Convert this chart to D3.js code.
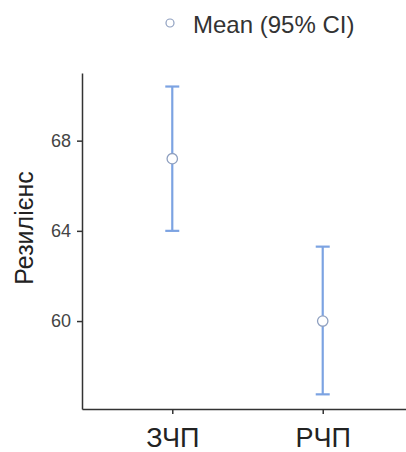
<!DOCTYPE html>
<html>
<head>
<meta charset="utf-8">
<script src="https://cdn.jsdelivr.net/npm/d3@7"></script>
<style>
  html, body { margin: 0; padding: 0; background: #fff; }
  svg { display: block; font-family: "Liberation Sans", Arial, sans-serif; }
</style>
</head>
<body>
<svg id="chart" width="406" height="452"></svg>
<script>
// Group means with 95% confidence intervals
const groups = ["ЗЧП", "РЧП"];
const means = [67.2, 60.0];
const ciLower = [64.0, 56.75];
const ciUpper = [70.4, 63.3];
const yTicks = [60, 64, 68];
const legendLabel = "Mean (95% CI)";
const yTitle = "Резилієнс";

const svg = d3.select("#chart");
const plotLeft = 82, plotTop = 73, plotBottom = 409, plotRight = 413;

const y = d3.scaleLinear().domain([56.1, 71.0]).range([plotBottom, plotTop]);
const x = d3.scalePoint().domain(groups).range([plotLeft, plotRight]).padding(0.6);

const barColor = "#7ca3e2";
const markerStroke = "#8fa0c0";

// Axes
const yAxis = svg.append("g")
  .attr("transform", `translate(${plotLeft},0)`)
  .call(d3.axisLeft(y).tickValues(yTicks).tickSize(5).tickPadding(6).tickSizeOuter(0));
yAxis.select(".domain").attr("stroke", "#333").attr("stroke-width", 1.5);
yAxis.selectAll(".tick line").attr("stroke", "#333").attr("stroke-width", 1.5);
yAxis.selectAll(".tick text").attr("fill", "#444").style("font-size", "18px");

const xAxis = svg.append("g")
  .attr("transform", `translate(0,${plotBottom})`)
  .call(d3.axisBottom(x).tickSize(5).tickPadding(14).tickSizeOuter(0));
xAxis.select(".domain").attr("stroke", "#333").attr("stroke-width", 1.5);
xAxis.selectAll(".tick line").attr("stroke", "#333").attr("stroke-width", 1.5);
xAxis.selectAll(".tick text").attr("fill", "#222").style("font-size", "27px");

// Error bars
const bars = svg.append("g").selectAll("g")
  .data(groups.map((g, i) => ({ g, m: means[i], lo: ciLower[i], hi: ciUpper[i] })))
  .join("g");
bars.append("line")
  .attr("x1", d => x(d.g)).attr("x2", d => x(d.g))
  .attr("y1", d => y(d.lo)).attr("y2", d => y(d.hi))
  .attr("stroke", barColor).attr("stroke-width", 2.2);
bars.selectAll(".cap")
  .data(d => [d.lo, d.hi].map(v => ({ g: d.g, v })))
  .join("line")
  .attr("class", "cap")
  .attr("x1", d => x(d.g) - 7).attr("x2", d => x(d.g) + 7)
  .attr("y1", d => y(d.v)).attr("y2", d => y(d.v))
  .attr("stroke", barColor).attr("stroke-width", 2.2);
bars.append("circle")
  .attr("cx", d => x(d.g)).attr("cy", d => y(d.m))
  .attr("r", 5.2)
  .attr("fill", "#fff").attr("stroke", markerStroke).attr("stroke-width", 1.3);

// Y title
svg.append("text")
  .attr("transform", `translate(33,228) rotate(-90)`)
  .attr("text-anchor", "middle")
  .attr("fill", "#222")
  .style("font-size", "25px")
  .text(yTitle);

// Legend
svg.append("circle")
  .attr("cx", 170).attr("cy", 23).attr("r", 4)
  .attr("fill", "#fff").attr("stroke", markerStroke).attr("stroke-width", 1.2);
svg.append("text")
  .attr("x", 193).attr("y", 33)
  .attr("fill", "#333")
  .style("font-size", "24px")
  .text(legendLabel);
</script>
</body>
</html>
